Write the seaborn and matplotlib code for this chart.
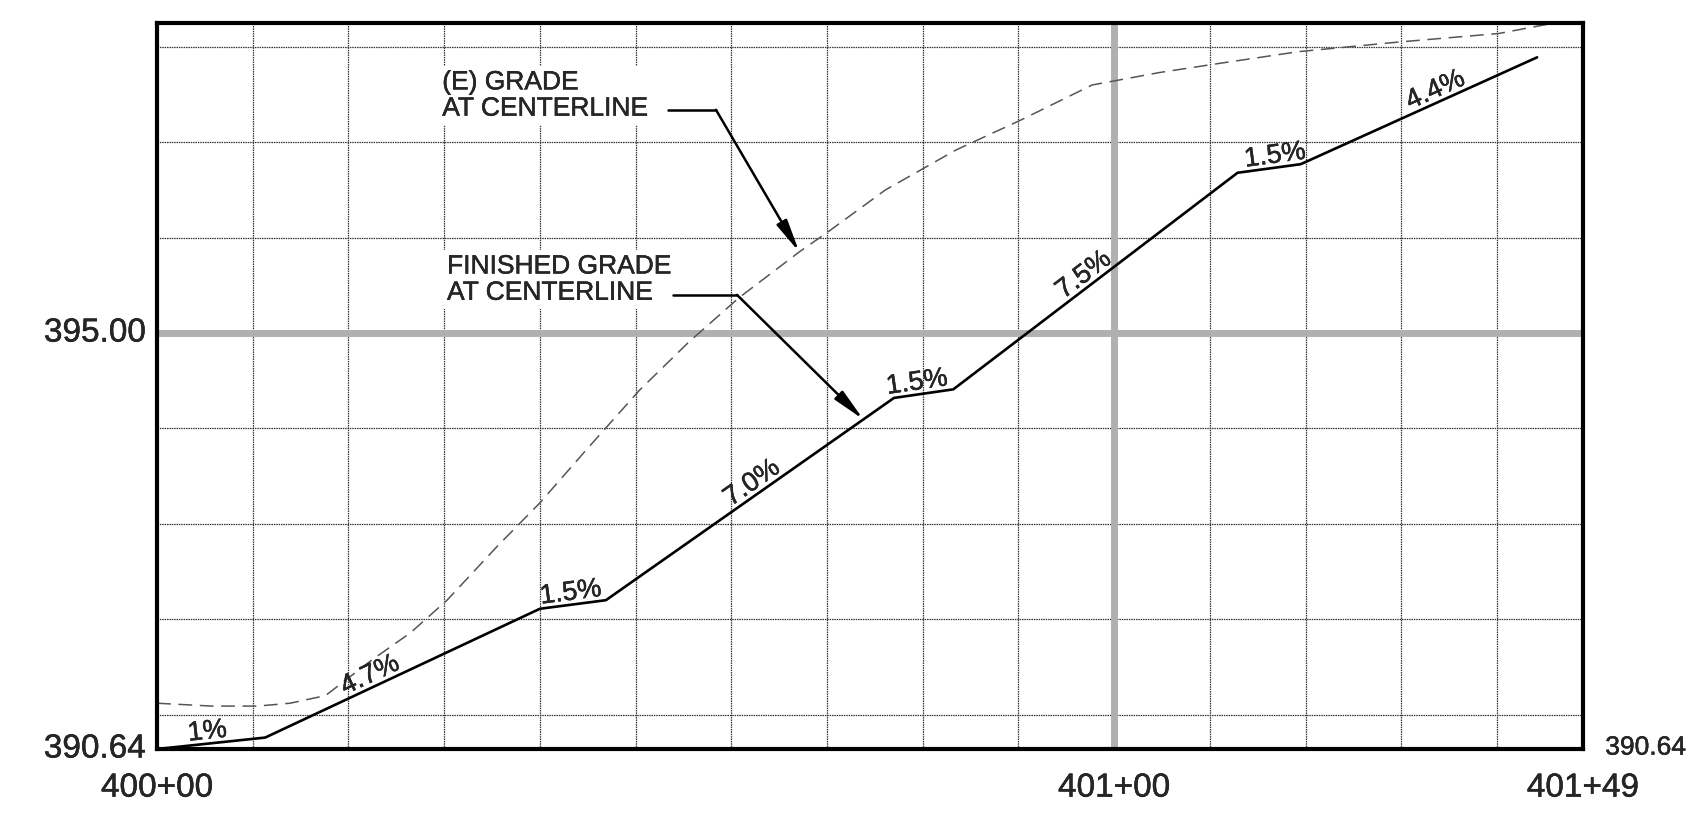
import matplotlib
matplotlib.use('Agg')
import matplotlib.pyplot as plt
import matplotlib.patheffects as pe
import seaborn as sns
import numpy as np

# profile data (station in ft from 400+00, elevation in ft)
fg_station = [0, 11.3, 40.0, 46.9, 77.0, 83.2, 112.9, 119.5, 144.2]
fg_elev = [390.64, 390.76, 392.11, 392.20, 394.32, 394.41, 396.68, 396.77, 397.89]

grade_labels = ['1%', '4.7%', '1.5%', '7.0%', '1.5%', '7.5%', '1.5%', '4.4%']
grade_label_station = [5.4, 22.8, 43.4, 62.9, 79.6, 97.6, 117.0, 134.1]

eg_station = [0, 5.7, 10.5, 13.9, 17.6, 22.4, 26.5, 30.3, 35.5, 40.0, 44.8, 50.4,
              55.5, 60.8, 67.1, 70.1, 76.1, 79.8, 83.5, 90.2, 97.7, 104.7, 109.9,
              119.3, 129.7, 140.2, 146.0]
eg_elev = [391.12, 391.09, 391.09, 391.12, 391.20, 391.57, 391.86, 392.20, 392.76,
           393.22, 393.77, 394.40, 394.90, 395.37, 395.85, 396.06, 396.50, 396.71,
           396.92, 397.23, 397.60, 397.73, 397.81, 397.95, 398.05, 398.14, 398.25]

x_label_pos = [0, 100, 149]
x_label_text = ['400+00', '401+00', '401+49']
y_label_pos = [390.64, 395.00]
y_label_text = ['390.64', '395.00']

sns.set_style('white')
plt.rcParams['font.family'] = ['Liberation Sans', 'DejaVu Sans']
# a touch of extra ink, like the scanned print
ink = [pe.withStroke(linewidth=0.3, foreground='black')]

fig = plt.figure(figsize=(16.98, 8.24), dpi=100)
ax = fig.add_axes([0.0925, 0.091, 0.8398, 0.8811])
ax.set_xlim(0, 149)
ax.set_ylim(390.64, 398.25)

# grid
ax.set_xticks(np.arange(10, 149, 10))
ax.set_yticks(np.arange(391, 399, 1))
ax.tick_params(length=0, labelbottom=False, labelleft=False)
ax.grid(True, color='#333333', lw=0.9, ls=(0, (1.2, 0.7)), zorder=0)
ax.axhline(395, color='#b0b0b0', lw=5, zorder=1)
ax.axvline(100, color='#b0b0b0', lw=5, zorder=1)
for s in ax.spines.values():
    s.set_linewidth(3)
    s.set_color('black')

# lines
sns.lineplot(x=eg_station, y=eg_elev, ax=ax, color='#555555', lw=1.1,
             linestyle=(0, (9, 5)), zorder=2)
sns.lineplot(x=fg_station, y=fg_elev, ax=ax, color='black', lw=1.9, zorder=3)

# grade labels along the finished grade, rotated to the drawn slope
for lab, sta in zip(grade_labels, grade_label_station):
    i = np.searchsorted(fg_station, sta) - 1
    p = ax.transData.transform([(fg_station[i], fg_elev[i]),
                                (fg_station[i + 1], fg_elev[i + 1])])
    ang = np.degrees(np.arctan2(p[1, 1] - p[0, 1], p[1, 0] - p[0, 0]))
    y = np.interp(sta, fg_station, fg_elev)
    off = 3.5
    ax.annotate(lab, xy=(sta, y),
                xytext=(-np.sin(np.radians(ang)) * off, np.cos(np.radians(ang)) * off),
                textcoords='offset points', ha='center', va='baseline', fontsize=19.5,
                rotation=ang, rotation_mode='anchor', zorder=4, path_effects=ink)

# callouts
ax.text(29.8, 397.49, '(E) GRADE\nAT CENTERLINE', fontsize=19, ha='left', va='center',
        linespacing=1.12, zorder=4, path_effects=ink,
        bbox=dict(facecolor='white', edgecolor='none', pad=3))
ax.plot([53.4, 58.4], [397.34, 397.34], color='black', lw=1.8, zorder=4)
e_tip = 67.1
ax.annotate('', xy=(e_tip, np.interp(e_tip, eg_station, eg_elev)), xytext=(58.4, 397.34),
            arrowprops=dict(arrowstyle='-|>,head_length=1.4,head_width=0.25',
                            mutation_scale=14, color='black', lw=1.8,
                            shrinkA=0, shrinkB=0), zorder=4)

ax.text(30.3, 395.56, 'FINISHED GRADE\nAT CENTERLINE', fontsize=19, ha='left', va='center',
        linespacing=1.12, zorder=4, path_effects=ink,
        bbox=dict(facecolor='white', edgecolor='none', pad=3))
ax.plot([53.9, 60.6], [395.40, 395.40], color='black', lw=1.8, zorder=4)
f_tip = 73.8
ax.annotate('', xy=(f_tip, np.interp(f_tip, fg_station, fg_elev)), xytext=(60.6, 395.40),
            arrowprops=dict(arrowstyle='-|>,head_length=1.4,head_width=0.25',
                            mutation_scale=14, color='black', lw=1.8,
                            shrinkA=0, shrinkB=0), zorder=4)

# axis labels
for v, t in zip(y_label_pos, y_label_text):
    ax.annotate(t, xy=(0, v), xytext=(-8, 0), textcoords='offset points',
                ha='right', va='center', fontsize=24, annotation_clip=False,
                path_effects=ink)
for v, t in zip(x_label_pos, x_label_text):
    ax.annotate(t, xy=(v, 390.64), xytext=(0, -17), textcoords='offset points',
                ha='center', va='top', fontsize=24, annotation_clip=False,
                path_effects=ink)
ax.annotate(y_label_text[0], xy=(149, 390.64), xytext=(16, 1), textcoords='offset points',
            ha='left', va='center', fontsize=19, annotation_clip=False,
            path_effects=ink)

fig.savefig('out.png', dpi=100)
